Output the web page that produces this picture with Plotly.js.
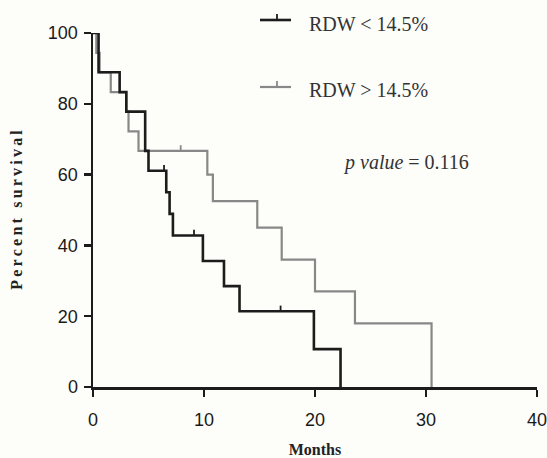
<!DOCTYPE html>
<html>
<head>
<meta charset="utf-8">
<script src="https://cdn.plot.ly/plotly-3.0.1.min.js"></script>
<style>html,body{margin:0;padding:0;background:#fdfdf9;}#chart{width:547px;height:458px;}</style>
</head>
<body>
<div id="chart"></div>
<script>
// RDW < 14.5% (black)
const lowTimes = [0, 0.5, 2.4, 3.0, 4.7, 5.0, 6.6, 6.9, 7.2, 9.9, 11.8, 13.2, 19.9, 22.3];
const lowSurv  = [100, 88.9, 83.3, 77.8, 66.7, 61.1, 55.0, 48.9, 42.8, 35.6, 28.5, 21.4, 10.7, 0];
const lowCensor = [6.4, 9.1, 16.9];
// RDW > 14.5% (grey)
const highTimes = [0, 0.3, 0.6, 1.6, 3.0, 3.2, 4.1, 10.3, 10.8, 14.8, 17.0, 20.0, 23.6, 30.5];
const highSurv  = [100, 94.4, 88.9, 83.3, 77.8, 72.2, 66.7, 60.0, 52.5, 45.0, 36.0, 27.0, 18.0, 0];
const highCensor = [7.9];

const xTicks = [0, 10, 20, 30, 40];
const yTicks = [0, 20, 40, 60, 80, 100];
const seriesNames = ['RDW < 14.5%', 'RDW > 14.5%'];
const pText = 'p value';
const pValue = '0.116';

function survAt(times, surv, t) {
  let s = surv[0];
  for (let i = 0; i < times.length; i++) { if (times[i] <= t) s = surv[i]; }
  return s;
}
function censorSegs(times, surv, cens, h) {
  const x = [], y = [];
  cens.forEach(t => { const s = survAt(times, surv, t); x.push(t, t, null); y.push(s, s + h, null); });
  return {x, y};
}

const BLACK = '#1c1c1c', GREY = '#888888';
const cl = censorSegs(lowTimes, lowSurv, lowCensor, 1.6);
const ch = censorSegs(highTimes, highSurv, highCensor, 1.6);

const traces = [
  {x: highTimes, y: highSurv, type: 'scatter', mode: 'lines', line: {shape: 'hv', color: GREY, width: 2.2}, name: seriesNames[1], cliponaxis: false},
  {x: ch.x, y: ch.y, type: 'scatter', mode: 'lines', line: {color: GREY, width: 1.8}, showlegend: false, cliponaxis: false},
  {x: lowTimes, y: lowSurv, type: 'scatter', mode: 'lines', line: {shape: 'hv', color: BLACK, width: 2.6}, name: seriesNames[0], cliponaxis: false},
  {x: cl.x, y: cl.y, type: 'scatter', mode: 'lines', line: {color: BLACK, width: 1.8}, showlegend: false, cliponaxis: false}
];

// plot area geometry helpers (paper coords)
const L = 93, R = 537, T = 33, B = 387;
const px = v => (v - L) / (R - L);
const py = v => (B - v) / (B - T);

const sp = '\u2009';
const spaced = s => s.split('').join(sp);

const layout = {
  width: 547, height: 458,
  margin: {l: 93, r: 10, t: 33, b: 71},
  paper_bgcolor: '#fdfdf9', plot_bgcolor: '#fdfdf9',
  showlegend: false,
  xaxis: {
    range: [0, 40], tickvals: xTicks, ticktext: xTicks.map(String),
    showgrid: false, zeroline: false, showline: true, linecolor: '#1c1c1c', linewidth: 2.5,
    ticks: 'outside', ticklen: 7, tickwidth: 2.5, tickcolor: '#1c1c1c',
    ticklabelstandoff: 8, ticklabeloverflow: 'allow',
    tickfont: {family: 'Liberation Sans, Arial, sans-serif', size: 18, color: '#1a1a1a'},
    title: {text: 'Months', font: {family: 'Liberation Serif, serif', size: 16, weight: 'bold', color: '#222'}, standoff: 27}
  },
  yaxis: {
    range: [0, 100], tickvals: yTicks, ticktext: yTicks.map(String),
    showgrid: false, zeroline: false, showline: true, linecolor: '#1c1c1c', linewidth: 2.5,
    ticks: 'outside', ticklen: 7, tickwidth: 2.5, tickcolor: '#1c1c1c',
    ticklabelstandoff: 2,
    tickfont: {family: 'Liberation Sans, Arial, sans-serif', size: 18, color: '#1a1a1a'},
    title: {text: spaced('Percent survival'), font: {family: 'Liberation Serif, serif', size: 16, weight: 'bold', color: '#222'}, standoff: 22}
  },
  shapes: [
    {type: 'line', xref: 'paper', yref: 'paper', x0: px(260), x1: px(291), y0: py(20), y1: py(20), line: {color: BLACK, width: 2.6}},
    {type: 'line', xref: 'paper', yref: 'paper', x0: px(277), x1: px(277), y0: py(20), y1: py(14), line: {color: BLACK, width: 1.8}},
    {type: 'line', xref: 'paper', yref: 'paper', x0: px(260), x1: px(291), y0: py(87), y1: py(87), line: {color: GREY, width: 2.2}},
    {type: 'line', xref: 'paper', yref: 'paper', x0: px(277), x1: px(277), y0: py(87), y1: py(81), line: {color: GREY, width: 1.8}}
  ],
  annotations: [
    {xref: 'paper', yref: 'paper', x: px(307), y: py(24), xanchor: 'left', yanchor: 'middle', showarrow: false, text: seriesNames[0], font: {family: 'Liberation Serif, serif', size: 20, color: '#333'}},
    {xref: 'paper', yref: 'paper', x: px(307), y: py(90), xanchor: 'left', yanchor: 'middle', showarrow: false, text: seriesNames[1], font: {family: 'Liberation Serif, serif', size: 20, color: '#333'}},
    {xref: 'paper', yref: 'paper', x: px(341), y: py(163), xanchor: 'left', yanchor: 'middle', showarrow: false, text: '<i>' + pText + '</i> = ' + pValue, font: {family: 'Liberation Serif, serif', size: 20, color: '#333'}}
  ]
};

Plotly.newPlot('chart', traces, layout, {displayModeBar: false, staticPlot: true});
</script>
</body>
</html>
